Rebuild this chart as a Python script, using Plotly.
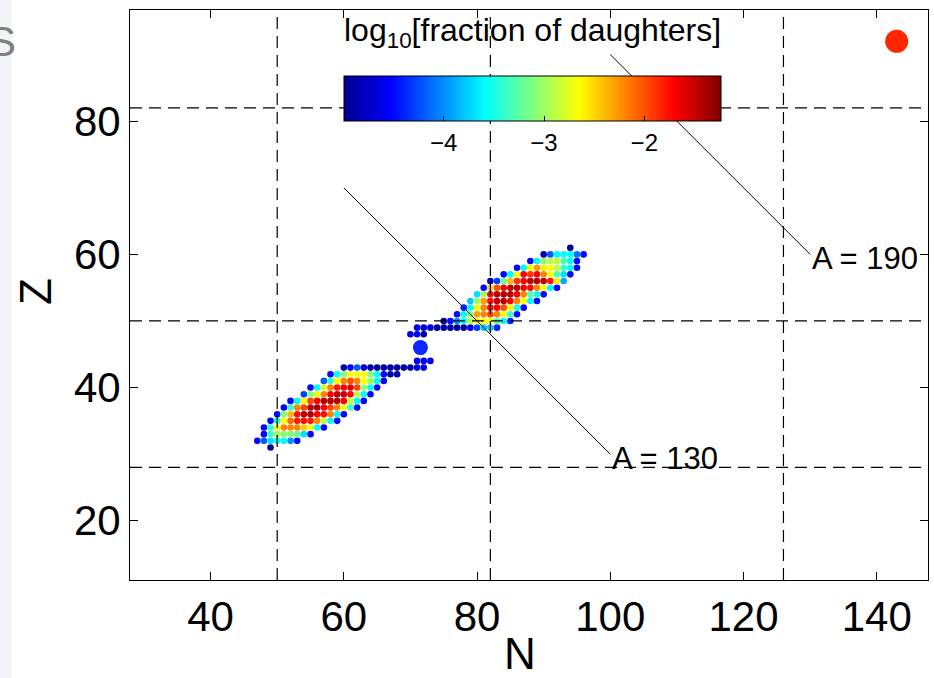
import plotly.graph_objects as go

# ---------------- data ----------------
n_ticks = [40, 60, 80, 100, 120, 140]
z_ticks = [20, 40, 60, 80]
cbar_ticks = [-4, -3, -2]
magic_n = [50, 82, 126]
magic_z = [28, 50, 82]

isobar_a = [130, 190]
isobar_n_range = [[60, 100], [100, 130]]
isobar_labels = ["A = 130", "A = 190"]

parent_n, parent_z = [143], [92]
half_n, half_z = [71.5], [46]

# daughter distribution: one entry per proton number Z,
# first neutron number of the row and log10(fraction) of each dot
row_z = [31, 32, 33, 34, 35, 36, 37, 38, 39, 40, 41, 42, 43, 44,
         48, 49, 50, 51, 52, 53, 54, 55, 56, 57, 58, 59, 60, 61]
row_n0 = [49, 47, 48, 48, 49, 50, 51, 52, 54, 55, 57, 58, 60, 71,
          70, 71, 75, 77, 78, 79, 80, 81, 82, 84, 86, 88, 90, 94]
row_logf = [
    [-4.9],
    [-4.5, -4.2, -3.7, -3.6, -3.6, -4.0, -4.5],
    [-4.5, -3.4, -3.0, -3.1, -3.1, -3.2, -3.7, -4.5],
    [-4.5, -3.4, -2.7, -2.2, -2.2, -2.2, -2.45, -2.7, -3.6, -4.5],
    [-4.5, -3.5, -2.65, -2.1, -1.8, -1.75, -1.8, -2.2, -2.85, -3.6, -4.5],
    [-4.5, -3.1, -2.4, -1.75, -1.45, -1.4, -1.7, -1.75, -2.2, -3.6, -4.5],
    [-4.5, -3.4, -2.2, -1.95, -1.45, -1.4, -1.7, -1.95, -2.2, -2.7, -3.4, -4.5],
    [-4.5, -3.6, -2.65, -1.95, -1.7, -1.45, -1.4, -1.45, -1.7, -2.9, -3.6, -4.5],
    [-4.3, -3.1, -2.65, -2.2, -1.7, -1.45, -1.5, -1.7, -2.9, -3.6, -4.5],
    [-4.5, -3.6, -2.8, -2.2, -1.8, -1.7, -1.6, -1.95, -3.0, -3.6, -4.5],
    [-4.2, -3.4, -2.65, -2.2, -2.0, -2.2, -2.65, -3.0, -3.6, -4.5],
    [-4.5, -3.6, -3.1, -2.65, -2.65, -2.65, -3.1, -3.6, -4.5, -4.9, -4.9],
    [-4.9, -4.5, -4.2, -4.6, -4.9, -4.9, -4.9, -4.9, -4.9, -4.9, -4.9, -4.7, -4.6],
    [-4.6, -4.6, -4.6],
    [-4.6, -4.6, -4.9],
    [-4.6, -4.6, -4.7, -4.9, -4.9, -4.9, -4.9, -4.9, -4.6, -4.3, -3.8, -3.8, -4.4],
    [-4.9, -4.5, -4.0, -3.6, -2.9, -2.65, -2.65, -2.65, -3.3, -3.6, -4.4],
    [-4.5, -3.6, -3.1, -2.3, -2.2, -1.95, -2.2, -2.65, -3.4, -4.5],
    [-4.4, -3.6, -2.7, -2.2, -1.75, -1.7, -2.0, -2.6, -3.5, -4.5],
    [-3.8, -3.0, -2.3, -1.75, -1.45, -1.45, -1.7, -2.2, -2.65, -3.6, -4.5],
    [-3.7, -3.0, -1.75, -1.45, -1.4, -1.45, -1.7, -2.2, -3.3, -3.6, -4.5],
    [-4.5, -2.5, -2.0, -1.7, -1.45, -1.4, -1.7, -1.75, -2.2, -2.65, -3.6, -4.5],
    [-4.8, -4.3, -3.2, -2.4, -1.9, -1.7, -1.45, -1.4, -1.5, -1.8, -2.6, -3.9],
    [-4.5, -3.6, -2.65, -1.7, -1.9, -1.7, -2.2, -2.65, -3.3, -3.7, -4.5],
    [-4.5, -3.6, -2.65, -2.3, -2.6, -2.65, -2.9, -3.4, -3.6, -4.5],
    [-4.5, -3.6, -3.1, -2.9, -2.9, -3.3, -3.6, -4.5],
    [-4.9, -4.2, -3.6, -3.6, -3.6, -4.1, -4.5],
    [-4.9],
]

# ---------------- build ----------------
pts_n, pts_z, pts_v = [], [], []
for z, n0, vals in zip(row_z, row_n0, row_logf):
    for i, v in enumerate(vals):
        pts_n.append(n0 + i)
        pts_z.append(z)
        pts_v.append(v)

jet = [[0.0, "#00008F"], [0.125, "#0000FF"], [0.375, "#00FFFF"],
       [0.625, "#FFFF00"], [0.875, "#FF0000"], [1.0, "#800000"]]

FONT = "Liberation Sans, Arial, Helvetica, sans-serif"

# layout geometry (pixels)
W, H = 934, 678
ML, MR, MT, MB = 130, 6, 10, 98
PW, PH = W - ML - MR, H - MT - MB


def px2paper_x(px):
    return (px - ML) / PW


def px2paper_y(py):
    return (H - MB - py) / PH


fig = go.Figure()

fig.add_trace(go.Scatter(
    x=pts_n, y=pts_z, mode="markers",
    marker=dict(size=6.6, color=pts_v, colorscale=jet, cmin=-5, cmax=-1.24,
                line=dict(width=0),
                showscale=True,
                colorbar=dict(
                    orientation="h",
                    x=px2paper_x(532), xanchor="center",
                    y=px2paper_y(75.7), yanchor="top",
                    len=377, lenmode="pixels",
                    thickness=45, thicknessmode="pixels",
                    xpad=0, ypad=0,
                    outlinecolor="black", outlinewidth=1,
                    tickvals=cbar_ticks, ticks="inside", ticklen=5,
                    tickcolor="black", tickwidth=1,
                    tickfont=dict(family=FONT, size=24, color="black"),
                )),
    hoverinfo="skip", showlegend=False,
))

for a, (n_lo, n_hi) in zip(isobar_a, isobar_n_range):
    fig.add_trace(go.Scatter(
        x=[n_lo, n_hi], y=[a - n_lo, a - n_hi], mode="lines",
        line=dict(color="black", width=1), hoverinfo="skip", showlegend=False))

fig.add_trace(go.Scatter(
    x=half_n, y=half_z, mode="markers",
    marker=dict(size=15, color="rgb(10,40,255)", line=dict(width=0)),
    hoverinfo="skip", showlegend=False))
fig.add_trace(go.Scatter(
    x=parent_n, y=parent_z, mode="markers",
    marker=dict(size=23, color="rgb(255,38,0)", line=dict(width=0)),
    hoverinfo="skip", showlegend=False))

shapes = []
shapes.append(dict(type="rect", xref="paper", yref="paper",
                   x0=px2paper_x(0), x1=px2paper_x(11),
                   y0=px2paper_y(H), y1=px2paper_y(0),
                   fillcolor="#f1f3f8", line=dict(width=0), layer="below"))
for n in magic_n:
    shapes.append(dict(type="line", xref="x", yref="paper", x0=n, x1=n, y0=0, y1=1,
                       line=dict(color="black", width=1.2, dash="12px,7px")))
for z in magic_z:
    shapes.append(dict(type="line", xref="paper", yref="y", x0=0, x1=1, y0=z, y1=z,
                       line=dict(color="black", width=1.2, dash="12px,7px")))

annotations = []
for a, (n_lo, n_hi), lab in zip(isobar_a, isobar_n_range, isobar_labels):
    annotations.append(dict(x=n_hi, y=a - n_hi, xref="x", yref="y", text=lab,
                            showarrow=False, xanchor="left", yanchor="middle",
                            yshift=-4, font=dict(family=FONT, size=31, color="black")))
annotations.append(dict(x=px2paper_x(532), y=px2paper_y(55), xref="paper", yref="paper",
                        text="log<sub>10</sub>[fraction of daughters]",
                        showarrow=False, xanchor="center", yanchor="bottom",
                        font=dict(family=FONT, size=32, color="black")))
annotations.append(dict(x=px2paper_x(520), y=px2paper_y(653), xref="paper", yref="paper",
                        text="N", showarrow=False, xanchor="center", yanchor="middle",
                        font=dict(family=FONT, size=44, color="black")))
annotations.append(dict(x=px2paper_x(35), y=px2paper_y(292), xref="paper", yref="paper",
                        text="Z", showarrow=False, xanchor="center", yanchor="middle",
                        textangle=-90, font=dict(family=FONT, size=44, color="black")))
annotations.append(dict(x=px2paper_x(18), y=px2paper_y(42), xref="paper", yref="paper",
                        text="S", showarrow=False, xanchor="right", yanchor="middle",
                        font=dict(family=FONT, size=42, color="#808080")))

axis_common = dict(showgrid=False, zeroline=False, showline=True, linecolor="black",
                   linewidth=1, mirror="ticks", ticks="inside", ticklen=8,
                   tickcolor="black", tickwidth=1,
                   tickfont=dict(family=FONT, size=42, color="black"))

fig.update_layout(
    width=W, height=H,
    margin=dict(l=ML, r=MR, t=MT, b=MB, pad=0),
    paper_bgcolor="white", plot_bgcolor="white",
    xaxis=dict(range=[27.9, 147.7], tickvals=n_ticks, ticklabelstandoff=0, **axis_common),
    yaxis=dict(range=[11.1, 96.7], tickvals=z_ticks, ticklabelstandoff=0, **axis_common),
    shapes=shapes, annotations=annotations,
)

fig.write_html("out.html")
